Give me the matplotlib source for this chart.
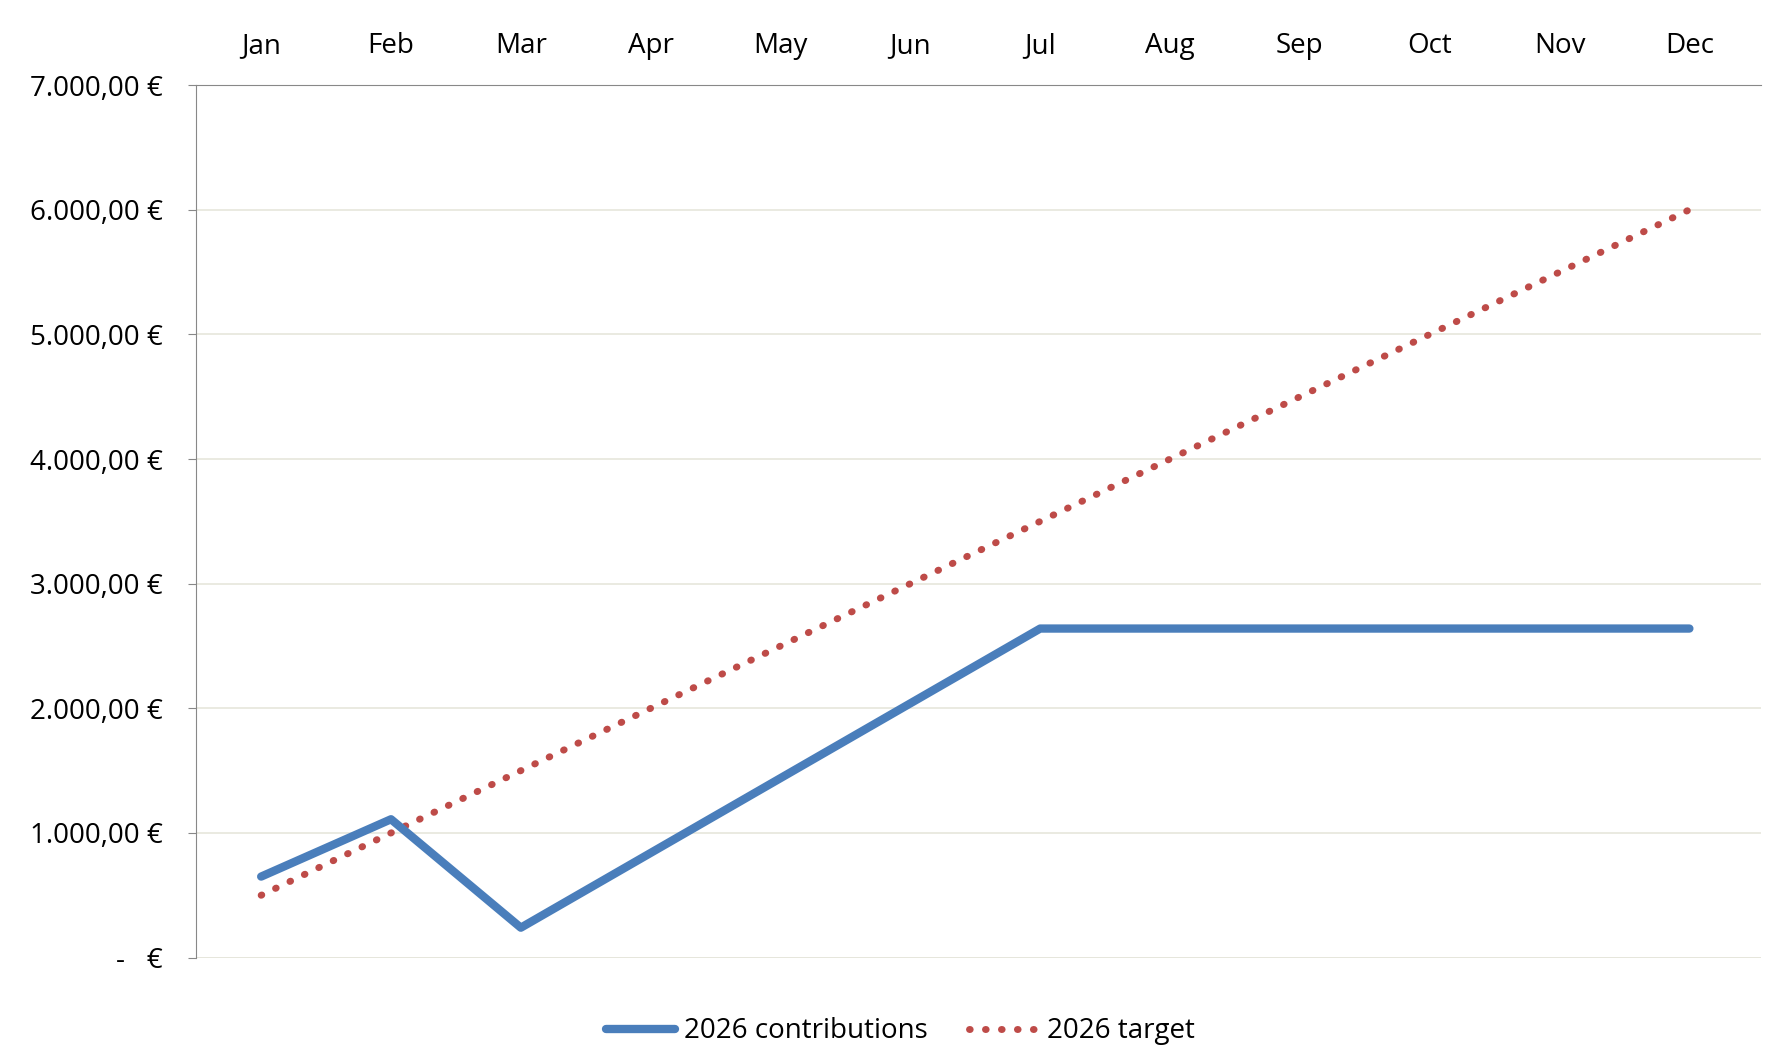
import matplotlib
matplotlib.use("Agg")
import matplotlib.pyplot as plt
from matplotlib.ticker import FuncFormatter

months = ["Jan","Feb","Mar","Apr","May","Jun","Jul","Aug","Sep","Oct","Nov","Dec"]
contributions = [650, 1110, 240, 840, 1440, 2040, 2640, 2640, 2640, 2640, 2640, 2640]
target = [500, 1000, 1500, 2000, 2500, 3000, 3500, 4000, 4500, 5000, 5500, 6000]

plt.rcParams['font.family'] = ['Open Sans', 'DejaVu Sans']
fig = plt.figure(figsize=(17.84, 10.64), dpi=100)
ax = fig.add_axes([0.11, 0.10, 0.877, 0.82])
x = list(range(len(months)))
ax.plot(x, contributions, color="#4a7ebb", lw=6, solid_capstyle="round", label="2026 contributions", zorder=3)
ax.plot(x, target, color="#be4b48", lw=5, linestyle=(0, (0.1, 2.2)), dash_capstyle="round", label="2026 target", zorder=2)

ax.set_ylim(0, 7000)
ax.set_xlim(-0.5, 11.55)
ax.set_yticks(range(0, 7001, 1000))
def fmt(v, p):
    if v == 0:
        return "-   €"
    return f"{int(v):,}".replace(",", ".") + ",00 €"
ax.yaxis.set_major_formatter(FuncFormatter(fmt))
ax.set_xticks(x)
ax.set_xticklabels(months)
ax.xaxis.tick_top()
ax.tick_params(axis='x', length=0, labelsize=20, pad=18)
ax.tick_params(axis='y', labelsize=20, length=6, pad=18, direction='out', color="#888888")
ax.grid(axis='y', color="#e6e6dc", lw=1.2)
ax.set_axisbelow(True)
for s in ["right", "bottom"]:
    ax.spines[s].set_visible(False)
ax.spines["left"].set_color("#888888")
ax.spines["top"].set_color("#888888")
ax.axhline(0, color="#e6e6dc", lw=1.2, zorder=0)
ax.legend(loc="upper center", bbox_to_anchor=(0.45, -0.04), ncol=2, frameon=False, fontsize=20,
          handlelength=2.5, columnspacing=1.5, handletextpad=0.3)
fig.savefig("out.png", dpi=100)
